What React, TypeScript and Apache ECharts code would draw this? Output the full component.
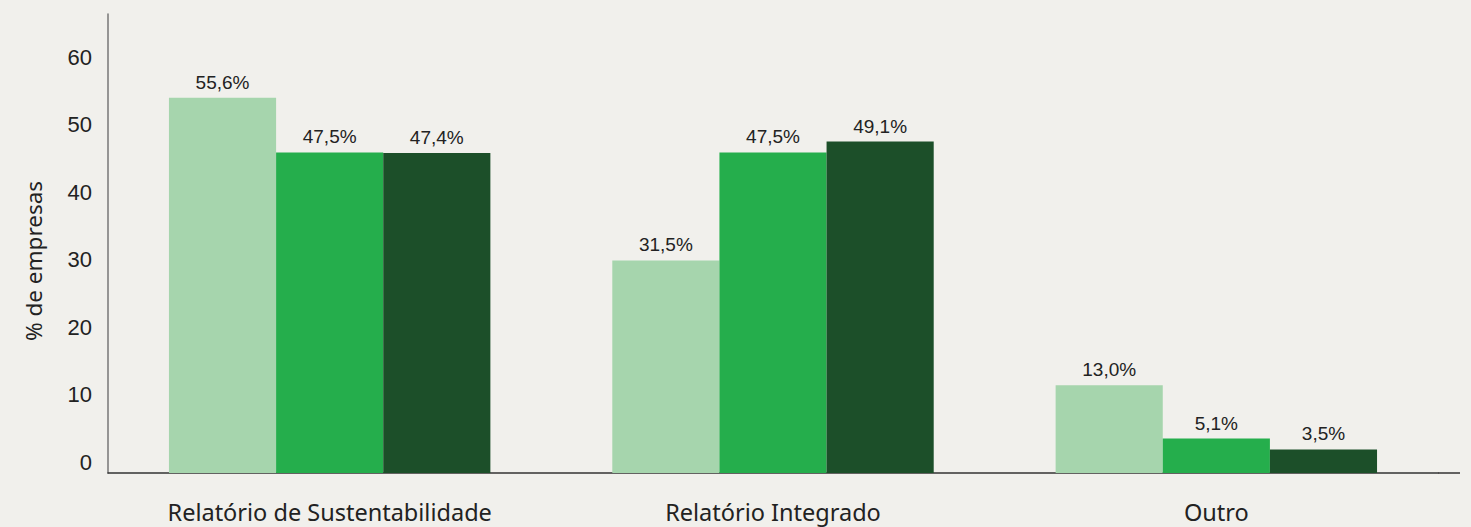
import React, { useEffect, useRef } from "react";
import * as echarts from "echarts";

const categories = ["Relatório de Sustentabilidade", "Relatório Integrado", "Outro"];
const seriesA = [55.6, 31.5, 13.0];
const seriesB = [47.5, 47.5, 5.1];
const seriesC = [47.4, 49.1, 3.5];
const seriesNames = ["A", "B", "C"];
const colors = ["#a6d5ad", "#25ae4c", "#1c4f29"];
const yAxisName = "% de empresas";

export default function App() {
  const ref = useRef<HTMLDivElement>(null);
  useEffect(() => {
    if (!ref.current) return;
    const chart = echarts.init(ref.current, null, { renderer: "svg" });
    const data = [seriesA, seriesB, seriesC];
    const numFont = "'Liberation Sans', Arial, sans-serif";
    const catFont = "'Noto Sans', sans-serif";
    chart.setOption({
      animation: false,
      backgroundColor: "#f1f0ec",
      grid: { left: 108, right: 33, top: 14, bottom: 54, containLabel: false },
      xAxis: {
        type: "category",
        data: categories,
        axisLine: { lineStyle: { color: "#333", width: 1.5 } },
        axisTick: { show: false },
        axisLabel: { color: "#222", fontSize: 23.5, fontFamily: catFont, margin: 27 },
      },
      yAxis: {
        type: "value",
        min: 0,
        max: 68,
        interval: 10,
        axisLine: { show: true, lineStyle: { color: "#777", width: 1.5 } },
        axisTick: { show: false },
        splitLine: { show: false },
        axisLabel: {
          color: "#222",
          fontSize: 22,
          fontFamily: numFont,
          margin: 16,
          showMaxLabel: false,
          verticalAlign: "bottom",
          lineHeight: 22,
        },
      },
      graphic: [
        {
          type: "text",
          x: 33,
          y: 261,
          rotation: Math.PI / 2,
          style: {
            text: yAxisName,
            fontSize: 22.5,
            fontFamily: catFont,
            fill: "#222",
            align: "center",
            verticalAlign: "middle",
          },
        },
        {
          type: "line",
          shape: { x1: 1438, y1: 473, x2: 1460, y2: 473 },
          style: { stroke: "#333", lineWidth: 1.5 },
        },
      ],
      series: data.map((d, i) => ({
        type: "bar",
        name: seriesNames[i],
        data: d,
        barGap: "0%",
        barCategoryGap: "27.5%",
        itemStyle: { color: colors[i] },
        label: {
          show: true,
          position: "top",
          distance: 6,
          color: "#222",
          fontSize: 19,
          fontFamily: numFont,
          formatter: (p: any) => p.value.toFixed(1).replace(".", ",") + "%",
        },
      })),
    });
    return () => chart.dispose();
  }, []);
  return (
    <div
      ref={ref}
      style={{ position: "fixed", left: 0, top: 0, width: 1471, height: 527 }}
    />
  );
}
